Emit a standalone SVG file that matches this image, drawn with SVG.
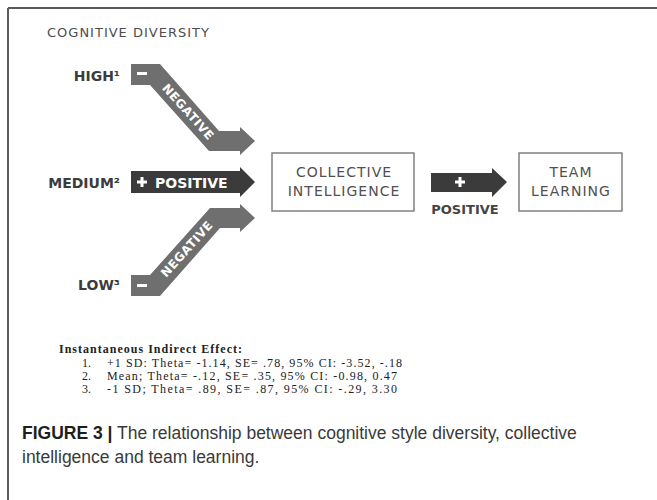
<svg xmlns="http://www.w3.org/2000/svg" width="657" height="500" viewBox="0 0 657 500">
<style>
.lbl{font-family:"DejaVu Sans",sans-serif;font-weight:bold;font-size:14px;fill:#3c3c3c}
.box{fill:#fff;stroke:#808080;stroke-width:1.5}
.boxt{font-family:"DejaVu Sans",sans-serif;font-size:14px;fill:#505050;letter-spacing:1px;text-anchor:middle}
.neg{fill:#6f6f6f}
.pos{fill:#3b3b3b}
.wt{font-family:"DejaVu Sans",sans-serif;font-weight:bold;fill:#fff}
.fn{font-family:"Liberation Serif",serif;font-size:12px;fill:#222}
.cap{font-family:"Liberation Sans",sans-serif;font-size:17.5px;fill:#3a3a3a}
</style>
<rect width="657" height="500" fill="#fff"/>
<g id="frame" stroke="#5a5a5a" stroke-width="2" fill="none">
<line x1="8" y1="8" x2="657" y2="8"/>
<line x1="8" y1="8" x2="8" y2="500"/>
</g>
<g id="title"><text x="47" y="37" style="font-family:'DejaVu Sans',sans-serif;font-size:13px;fill:#4d4d4d;letter-spacing:1px">COGNITIVE DIVERSITY</text></g>
<g id="high"><text class="lbl" x="120" y="81" text-anchor="end">HIGH¹</text></g>
<g id="medium"><text class="lbl" x="120" y="188" text-anchor="end">MEDIUM²</text></g>
<g id="low"><text class="lbl" x="120" y="290" text-anchor="end">LOW³</text></g>
<g id="collective">
<rect class="box" x="272" y="153" width="142" height="58"/>
<text class="boxt" x="344" y="177">COLLECTIVE</text>
<text class="boxt" x="344" y="196">INTELLIGENCE</text>
</g>
<g id="team">
<rect class="box" x="519" y="153" width="103" height="58"/>
<text class="boxt" x="571" y="177">TEAM</text>
<text class="boxt" x="571" y="196">LEARNING</text>
</g>
<g id="connectors">
<g id="arrow-high">
<polygon class="neg" points="131,64 160,64 219,131 240,131 240,127 255,141 240,155 240,151 209,151 150,85 131,85"/>
<rect x="137" y="72" width="10" height="3" fill="#fff"/>
<text class="wt" font-size="12" letter-spacing="0.5" text-anchor="middle" dominant-baseline="central" transform="translate(188,112) rotate(48)">NEGATIVE</text>
</g>
<g id="arrow-medium">
<polygon class="pos" points="131,171 240,171 240,167 255,182 240,197 240,193 131,193"/>
<path d="M137 180.5h10v3h-10zM140.5 177h3v10h-3z" fill="#fff"/>
<text class="wt" font-size="14" x="155" y="188">POSITIVE</text>
</g>
<g id="arrow-low">
<polygon class="neg" points="131,296 160,296 220,228 240,228 240,232 255,218 240,204 240,208 210,208 150,275 131,275"/>
<rect x="137" y="284" width="10" height="3" fill="#fff"/>
<text class="wt" font-size="12" letter-spacing="0.5" text-anchor="middle" dominant-baseline="central" transform="translate(187,249) rotate(-48)">NEGATIVE</text>
</g>
<g id="arrow-ci-tl">
<polygon class="pos" points="431,173 492,173 492,168 507,182 492,197 492,192 431,192"/>
<path d="M455 180.5h10v3h-10zM458.5 177h3v10h-3z" fill="#fff"/>
<text x="465" y="214" text-anchor="middle" style="font-family:'DejaVu Sans',sans-serif;font-weight:bold;font-size:13px;fill:#444">POSITIVE</text>
</g>
</g>
<g id="footnote">
<text class="fn" x="59" y="353" font-weight="bold" textLength="183" lengthAdjust="spacing">Instantaneous Indirect Effect:</text>
<text class="fn" x="82" y="367">1.</text>
<text class="fn" x="107" y="367" textLength="295" lengthAdjust="spacing">+1 SD: Theta= -1.14, SE= .78, 95% CI: -3.52, -.18</text>
<text class="fn" x="82" y="380">2.</text>
<text class="fn" x="107" y="380" textLength="290" lengthAdjust="spacing">Mean; Theta= -.12, SE= .35, 95% CI: -0.98, 0.47</text>
<text class="fn" x="82" y="393">3.</text>
<text class="fn" x="107" y="393" textLength="290" lengthAdjust="spacing">-1 SD; Theta= .89, SE= .87, 95% CI: -.29, 3.30</text>
</g>
<g id="caption">
<text class="cap" x="22" y="439"><tspan font-weight="bold" fill="#1e1e1e">FIGURE 3 |</tspan> The relationship between cognitive style diversity, collective</text>
<text class="cap" x="22" y="463">intelligence and team learning.</text>
</g>
</svg>
